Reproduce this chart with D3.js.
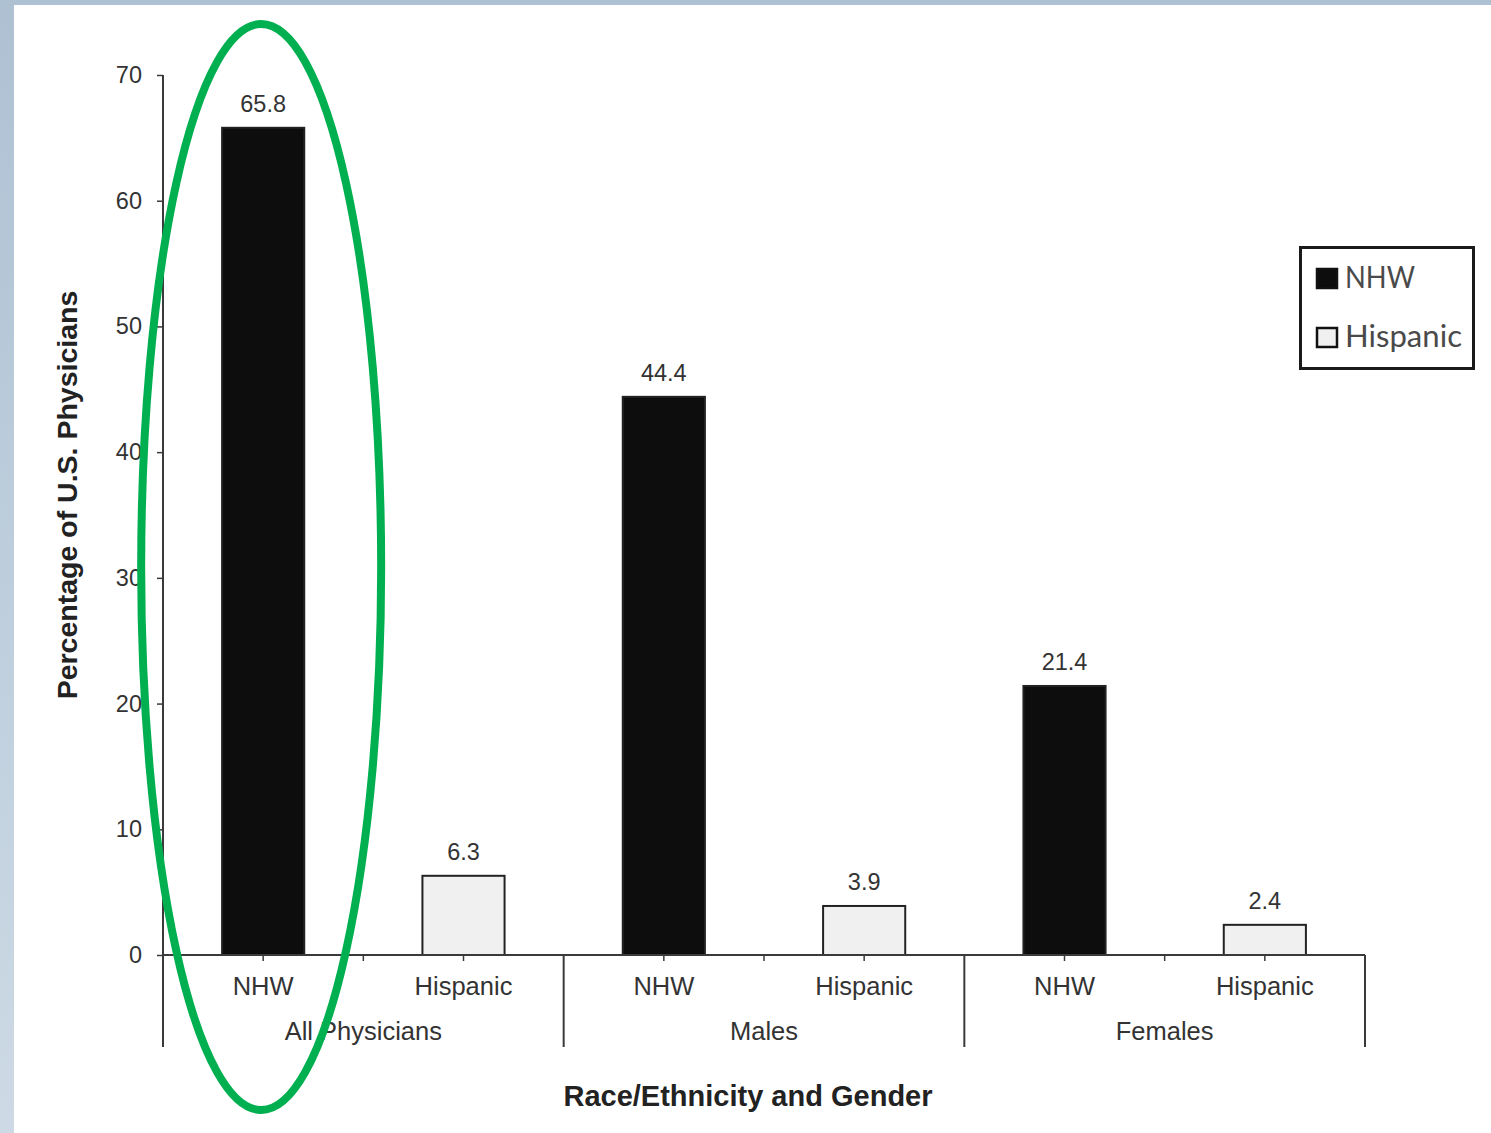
<!DOCTYPE html>
<html><head><meta charset="utf-8">
<script src="https://cdn.jsdelivr.net/npm/d3@7"></script>
<style>html,body{margin:0;padding:0;background:#fff;}svg{display:block;}</style>
</head><body>
<script>
const groups = ["All Physicians", "Males", "Females"];
const subCategories = ["NHW", "Hispanic"];
const nhwValues = [65.8, 44.4, 21.4];
const hispanicValues = [6.3, 3.9, 2.4];
const yTicks = [0, 10, 20, 30, 40, 50, 60, 70];
const yTitle = "Percentage of U.S. Physicians";
const xTitle = "Race/Ethnicity and Gender";

const W = 1491, H = 1133;
const svg = d3.select("body").append("svg").attr("width", W).attr("height", H);
const defs = svg.append("defs");
const grad = defs.append("linearGradient").attr("id","bg").attr("x1",0).attr("y1",0).attr("x2",0).attr("y2",1);
grad.append("stop").attr("offset","0%").attr("stop-color","#aec1d3");
grad.append("stop").attr("offset","100%").attr("stop-color","#cddae5");
svg.append("rect").attr("width",W).attr("height",H).attr("fill","url(#bg)");
svg.append("rect").attr("x",14).attr("y",5).attr("width",W-14).attr("height",H-5).attr("fill","#fff");

const data = [];
groups.forEach((g,i)=>{
  data.push({group:g, sub:subCategories[0], key:g+"|"+subCategories[0], value:nhwValues[i]});
  data.push({group:g, sub:subCategories[1], key:g+"|"+subCategories[1], value:hispanicValues[i]});
});

const x0 = 163, x1 = 1365, yTop = 75, yBase = 955;
const y = d3.scaleLinear().domain([0,70]).range([yBase, yTop]);
const x = d3.scaleBand().domain(data.map(d=>d.key)).range([x0,x1]).paddingInner(0.59).paddingOuter(0.295);
const xg = d3.scaleBand().domain(groups).range([x0,x1]).padding(0);

const font = "'Liberation Sans', Arial, sans-serif";
const axisColor = "#3a3a3a";

// Y axis
const yAxis = svg.append("g").attr("transform",`translate(${x0},0)`)
  .call(d3.axisLeft(y).tickValues(yTicks).tickSize(6).tickPadding(15).tickFormat(d3.format("d")));
yAxis.select(".domain").attr("stroke",axisColor).attr("stroke-width",2).attr("d",`M0,${yTop}V${yBase}`);
yAxis.selectAll(".tick line").attr("stroke",axisColor).attr("stroke-width",1.5);
yAxis.selectAll(".tick text").attr("font-family",font).attr("font-size",23.5).attr("fill","#333");

// Bars
svg.append("g").selectAll("rect").data(data).join("rect")
  .attr("x",d=>x(d.key)).attr("width",x.bandwidth())
  .attr("y",d=>y(d.value)).attr("height",d=>yBase-y(d.value))
  .attr("fill",d=>d.sub==="NHW"?"#0d0d0d":"#f0f0f0")
  .attr("stroke","#222").attr("stroke-width",2);

// value labels
svg.append("g").selectAll("text").data(data).join("text")
  .attr("x",d=>x(d.key)+x.bandwidth()/2).attr("y",d=>y(d.value)-16)
  .attr("text-anchor","middle").attr("font-family",font).attr("font-size",23.5).attr("fill","#333")
  .text(d=>d.value.toFixed(1));

// X axis
const xa = svg.append("g");
xa.append("line").attr("x1",x0).attr("x2",x1).attr("y1",yBase).attr("y2",yBase).attr("stroke",axisColor).attr("stroke-width",2);
const bounds = groups.map(g=>xg(g)).concat([x1]);
xa.selectAll(".gb").data(bounds).join("line").attr("class","gb")
  .attr("x1",d=>d).attr("x2",d=>d).attr("y1",yBase).attr("y2",1047).attr("stroke",axisColor).attr("stroke-width",2);
const smallTicks = data.map(d=>x(d.key)+x.bandwidth()/2).concat(groups.map(g=>xg(g)+xg.bandwidth()/2));
xa.selectAll(".st").data(smallTicks).join("line").attr("class","st")
  .attr("x1",d=>d).attr("x2",d=>d).attr("y1",yBase).attr("y2",yBase+6).attr("stroke",axisColor).attr("stroke-width",1.5);
xa.selectAll(".cl").data(data).join("text").attr("class","cl")
  .attr("x",d=>x(d.key)+x.bandwidth()/2).attr("y",995)
  .attr("text-anchor","middle").attr("font-family",font).attr("font-size",25.5).attr("fill","#333")
  .text(d=>d.sub);
xa.selectAll(".gl").data(groups).join("text").attr("class","gl")
  .attr("x",d=>xg(d)+xg.bandwidth()/2).attr("y",1040)
  .attr("text-anchor","middle").attr("font-family",font).attr("font-size",25.5).attr("fill","#333")
  .text(d=>d);

// axis titles
svg.append("text").attr("x",748).attr("y",1106).attr("text-anchor","middle")
  .attr("font-family",font).attr("font-weight","bold").attr("font-size",29).attr("fill","#222").text(xTitle);
svg.append("text").attr("transform","translate(77,495) rotate(-90)").attr("text-anchor","middle")
  .attr("font-family",font).attr("font-weight","bold").attr("font-size",28.5).attr("fill","#222").text(yTitle);

// legend
const lg = svg.append("g");
lg.append("rect").attr("x",1300.5).attr("y",247.5).attr("width",173).attr("height",121)
  .attr("fill","#fff").attr("stroke","#1a1a1a").attr("stroke-width",3);
const legendItems = [{label:subCategories[0], fill:"#0d0d0d", y:269},{label:subCategories[1], fill:"#f0f0f0", y:328}];
legendItems.forEach(it=>{
  lg.append("rect").attr("x",1317).attr("y",it.y).attr("width",20).attr("height",19)
    .attr("fill",it.fill).attr("stroke","#111").attr("stroke-width",2.5);
  lg.append("text").attr("x",1345).attr("y",it.y+19).attr("font-family","Lato, 'Open Sans', sans-serif")
    .attr("font-size",30).attr("fill","#4a4a4a")
    .attr("textLength", it.label==="NHW"?70:117).attr("lengthAdjust","spacingAndGlyphs")
    .text(it.label);
});

// green ellipse highlight
svg.append("ellipse").attr("cx",x(data[0].key)+x.bandwidth()/2-2).attr("cy",567).attr("rx",120).attr("ry",543)
  .attr("fill","none").attr("stroke","#00b050").attr("stroke-width",8);
</script>
</body></html>
